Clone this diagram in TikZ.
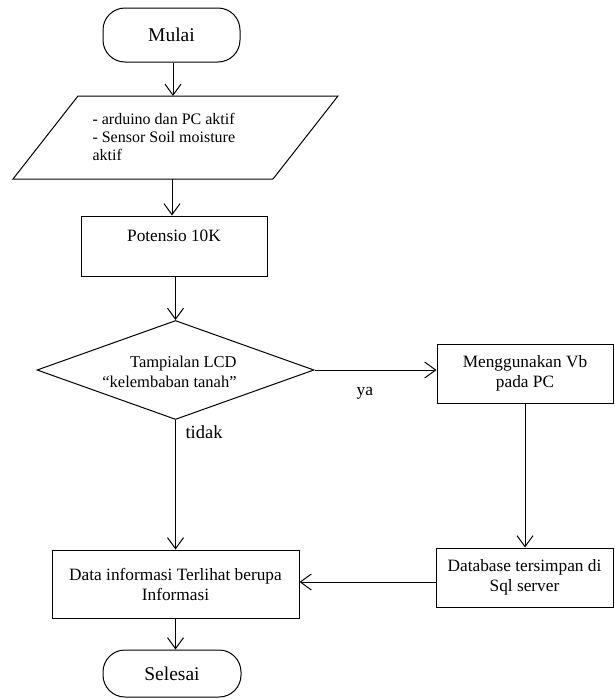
\documentclass[tikz,border=0pt]{standalone}
\usepackage{fontspec}
\setmainfont{Liberation Serif}
\usetikzlibrary{shapes.geometric,arrows.meta}
\begin{document}
\begin{tikzpicture}[x=1pt,y=-1pt,
  line width=1pt,
  base/.style={draw, line width=1pt, inner sep=0pt, font=\fontsize{17.3}{20}\selectfont, align=center},
  boxnode/.style={base, rectangle},
  term/.style={base, rectangle, rounded corners=22pt, font=\fontsize{19.5}{22}\selectfont},
  arr/.style={-{Straight Barb[length=11pt,width=16pt]}, line width=1pt},
  lbl/.style={font=\fontsize{17.5}{20}\selectfont, inner sep=0pt}]
\useasboundingbox (0,0) rectangle (614,699);

% start
\node[term, minimum width=137pt, minimum height=54pt] (mulai) at (171.5,35) {Mulai};

% input parallelogram
\coordinate (pTL) at (78,96);
\coordinate (pTR) at (338,96);
\coordinate (pBR) at (273,179);
\coordinate (pBL) at (13,179);
\draw (pBL) -- (pTL) -- (pTR) -- (pBR) -- cycle;
\node[base, draw=none, align=left, anchor=west, font=\fontsize{16}{18}\selectfont] (ptext) at (92,137)
  {- arduino dan PC aktif\\- Sensor Soil moisture\\aktif};
\coordinate (pin) at (173,96);
\coordinate (pout) at (172,179);

% process
\node[boxnode, minimum width=186pt, minimum height=60pt] (pot) at (174,246) {Potensio 10K\\\mbox{}};

% decision
\node[draw, diamond, line width=1pt, inner sep=0pt, minimum width=277pt, minimum height=99pt] (dia) at (175.5,370) {};
\node[base, draw=none, align=right, font=\fontsize{16.5}{20}\selectfont] (diatext) at (169.5,372)
  {Tampialan LCD\\“kelembaban tanah”};

\node[boxnode, minimum width=176pt, minimum height=59pt] (vb) at (525,373.5) {Menggunakan Vb\\pada PC};
\node[boxnode, minimum width=177pt, minimum height=59pt] (db) at (524.5,577.5) {Database tersimpan di\\Sql server};
\node[boxnode, minimum width=247pt, minimum height=68pt] (data) at (175.5,584) {Data informasi Terlihat berupa\\Informasi};
\node[term, minimum width=138pt, minimum height=47pt] (sel) at (172,673.5) {Selesai};

\node[lbl] (ya) at (365,393) {ya};
\node[lbl, font=\fontsize{18.5}{20}\selectfont, anchor=west] (tidak) at (185,432) {tidak};

% connectors
\draw[arr] (mulai.south -| pin) -- (pin);
\draw[arr] (pout) -- (pout |- pot.north);
\draw[arr] (pot.south -| dia.north) -- (dia.north);
\draw[arr] (dia.east) -- (dia.east -| vb.west);
\draw[arr] (dia.south) -- (dia.south |- data.north);
\draw[arr] (vb.south) -- (vb.south |- db.north);
\draw[arr] ([yshift=-4.5pt]db.west) -- ([yshift=-4.5pt]db.west -| data.east);
\draw[arr] (data.south) -- (data.south |- sel.north);
\end{tikzpicture}
\end{document}
